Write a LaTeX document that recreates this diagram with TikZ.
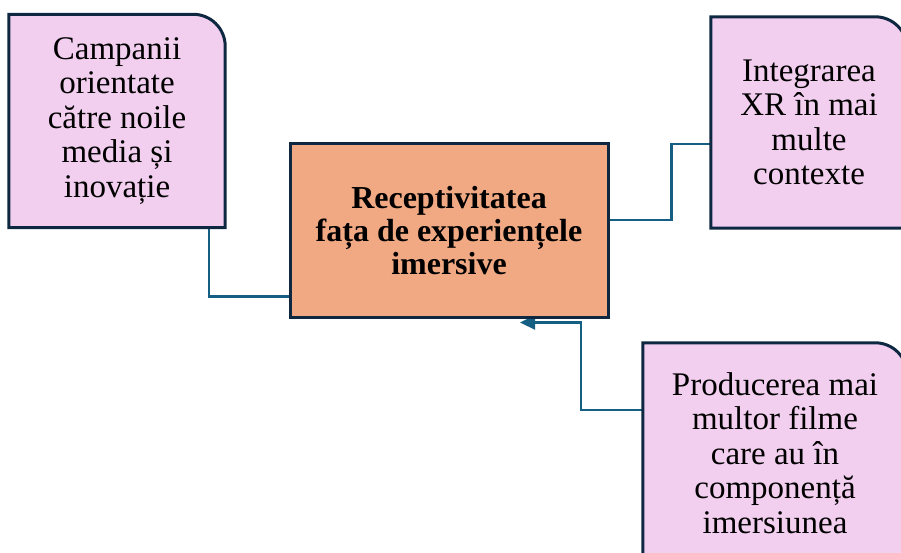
\documentclass[tikz,border=0pt]{standalone}
\usepackage{fontspec}
\setmainfont{Liberation Serif}
\usepackage{tikz}
\usetikzlibrary{arrows.meta}

\pgfdeclarelayer{links}
\pgfdeclarelayer{boxes}
\pgfsetlayers{links,boxes,main}

\definecolor{leaffill}{HTML}{F2CEEF}
\definecolor{corefill}{HTML}{F1A983}
\definecolor{boxline}{HTML}{0E2841}
\definecolor{linkline}{HTML}{156082}

\begin{document}
\begin{tikzpicture}[x=1pt, y=1pt,
    every node/.style={align=center, inner sep=0pt, font=\fontsize{33}{34.5}\selectfont},
    core/.style={rectangle, draw=boxline, fill=corefill, line width=3pt,
        font=\fontsize{32}{33}\selectfont\bfseries},
    leafshape/.style={draw=boxline, fill=leaffill, line width=3pt},
    link/.style={draw=linkline, line width=2.4pt}]
    \clip (0,0) rectangle (901,553);

    \node (camp) [minimum width=216pt, minimum height=213pt] at (117,432)
        {Campanii\\orientate\\către noile\\media și\\inovație};
    \node (recep) [core, minimum width=318pt, minimum height=174pt] at (449,322)
        {Receptivitatea\\fața de experiențele\\imersive};
    \node (integ) [minimum width=196pt, minimum height=211pt] at (809,430.5)
        {Integrarea\\XR în mai\\multe\\contexte};
    \node (prod) [minimum width=264pt, minimum height=220pt] at (775,100)
        {Producerea mai\\multor filme\\care au în\\componență\\imersiunea};

    % boxes with one round corner
    \begin{pgfonlayer}{boxes}
        \foreach \n in {camp, integ, prod}
            \path[leafshape] (\n.south west) -- (\n.north west)
                -- ([xshift=-32pt]\n.north east) arc[start angle=90, end angle=0, radius=32pt]
                -- (\n.south east) -- cycle;
    \end{pgfonlayer}

    % connectors
    \begin{pgfonlayer}{links}
        \draw[link] ([xshift=-16pt]camp.south east) |- ([yshift=23pt]recep.south west);
        \draw[link] ([yshift=11pt]recep.east) -- ++(62pt,0) |- ([yshift=-21.5pt]integ.west);
        \draw[link, -{Triangle[length=15pt, width=14pt]}] ([yshift=43pt]prod.west) -- ++(-62pt,0)
            |- ([xshift=71pt, yshift=-3pt]recep.south);
    \end{pgfonlayer}
\end{tikzpicture}
\end{document}
